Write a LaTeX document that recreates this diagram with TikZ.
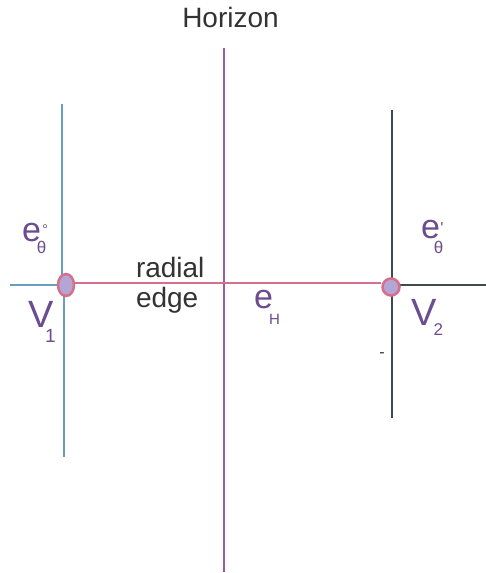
\documentclass[tikz,border=0pt]{standalone}
\usepackage{fontspec}
\usetikzlibrary{shapes.geometric}
\setmainfont{Liberation Sans}
\definecolor{vblue}{HTML}{6A9EC0}
\definecolor{hpurple}{HTML}{9E5A9A}
\definecolor{epink}{HTML}{D4708C}
\definecolor{vdark}{HTML}{40494C}
\definecolor{tpurple}{HTML}{6B4C8F}
\definecolor{vfill}{HTML}{B4A6D4}
\definecolor{tdark}{HTML}{333333}
\newcommand{\fsz}[1]{\fontsize{#1}{#1}\selectfont}
\begin{document}
\begin{tikzpicture}[x=1pt,y=-1pt,
  lbl/.style={inner sep=0pt,outer sep=0pt,anchor=base west},
  big/.style={lbl,text=tdark,font=\fontsize{28}{30}\selectfont},
  vlab/.style={lbl,text=tpurple,font=\fontsize{38}{40}\selectfont},
  elab/.style={lbl,text=tpurple,font=\fontsize{34}{36}\selectfont},
  vertex/.style={draw=epink,line width=2.5pt,fill=vfill,inner sep=0pt}]
\useasboundingbox (0,0) rectangle (486,573);
% coordinates
\coordinate (bl1) at (10,285);
\coordinate (bt) at (62,104);
\coordinate (bj) at (62,285);
\coordinate (bb0) at (63.5,290);
\coordinate (bb) at (63.5,457);
\coordinate (ht) at (224,48);
\coordinate (hb) at (224,572);
\coordinate (dt) at (392,110);
\coordinate (db) at (392,418);
\coordinate (dj) at (392,285);
\coordinate (dr) at (486,285);
% lines
\draw[vblue,line width=2pt] (bl1) -- (bj);
\draw[vblue,line width=2pt] (bt) -- (bj);
\draw[vblue,line width=2pt] (bb0) -- (bb);
\draw[hpurple,line width=2pt] (ht) -- (hb);
\draw[vdark,line width=2.6pt] (dt) -- (db);
\draw[vdark,line width=2.6pt] (dj) -- (dr);
% vertices
\node[vertex,ellipse,minimum width=16pt,minimum height=22pt] (v1) at (66,285) {};
\node[vertex,circle,minimum size=17pt] (v2) at (391,287) {};
\draw[epink,line width=2.5pt] (v1.east |- 0,283) -- (v2.west |- 0,283);
% labels
\node[big,anchor=base] (hor) at (230.5,27) {Horizon};
\node[big] (rad) at (136,277) {radial};
\node[big] (edg) at (136,307) {edge};
\node[elab] (e1) at (22,241.5) {e\kern-4pt\raisebox{-11.5pt}{\fsz{17}θ}\kern-4pt\raisebox{7.3pt}{\fsz{14}°}};
\node[elab] (e2) at (421,238.5) {e\kern-6pt\raisebox{-14.5pt}{\fsz{17}θ}\kern-3pt\raisebox{5pt}{\fsz{16}\textquotesingle}};
\node[vlab] (V1) at (28,327) {V\kern-8.3pt\raisebox{-15pt}{\fsz{19}1}};
\node[vlab] (V2) at (411,325) {V\kern-2.8pt\raisebox{-10pt}{\fsz{17}2}};
\node[elab] (eH) at (254,308.5) {e\kern-3.9pt\raisebox{-15.5pt}{\fsz{15}H}};
\node[text=tdark,inner sep=0pt,font=\fsz{16}] (dash) at (382,355) {-};
\end{tikzpicture}
\end{document}
